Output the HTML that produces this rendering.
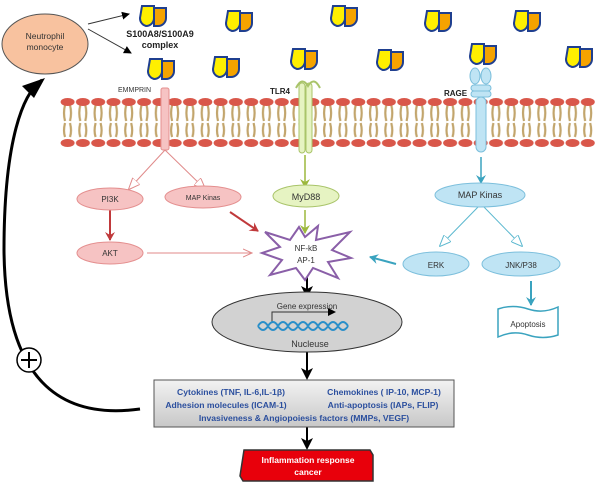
<!DOCTYPE html>
<html><head><meta charset="utf-8"><style>
html,body{margin:0;padding:0;background:#fff;width:600px;height:485px;overflow:hidden}
svg{display:block;font-family:"Liberation Sans",sans-serif}
</style></head><body>
<svg width="600" height="485" viewBox="0 0 600 485" xmlns="http://www.w3.org/2000/svg">
<defs>
<pattern id="lip" x="60" y="95" width="15.3" height="55" patternUnits="userSpaceOnUse">
<path d="M5 10 q-2 8 0 16 M10 10 q2 8 0 16 M5 28 q-2 8 0 14 M10 28 q2 8 0 14" stroke="#c2a56c" stroke-width="2.2" fill="none"/>
<ellipse cx="7.6" cy="7" rx="7" ry="4" fill="#d9574a"/>
<ellipse cx="7.6" cy="48" rx="7" ry="4" fill="#d9574a"/>
</pattern>
<g id="s1"><path d="M2 2 h12 v12 a8 8 0 0 1 -8 8 a8 8 0 0 1 -6 -8 z" fill="#ffef00" stroke="#1f3f8f" stroke-width="2"/><path d="M14 4 h12 v10 a8 8 0 0 1 -8 8 h-4 z" fill="#f5a300" stroke="#1f3f8f" stroke-width="2"/></g>
<marker id="ab" markerWidth="8" markerHeight="8" refX="7" refY="4" orient="auto"><path d="M0 0 L8 4 L0 8 z" fill="#000"/></marker>
<marker id="ao" markerWidth="12" markerHeight="10" refX="11" refY="5" orient="auto" markerUnits="userSpaceOnUse"><path d="M0 0 L12 5 L0 10 z" fill="#fff" stroke="#e08a8a"/></marker>
<marker id="ab2" markerWidth="12" markerHeight="10" refX="11" refY="5" orient="auto" markerUnits="userSpaceOnUse"><path d="M0 0 L12 5 L0 10 z" fill="#fff" stroke="#5bb8cf"/></marker>
<marker id="ar" markerWidth="10" markerHeight="10" refX="8" refY="5" orient="auto" markerUnits="userSpaceOnUse"><path d="M0 0 L9 5 L0 10 L3 5z" fill="#c0393b"/></marker>
<marker id="ac" markerWidth="10" markerHeight="10" refX="8" refY="5" orient="auto" markerUnits="userSpaceOnUse"><path d="M0 0 L9 5 L0 10 L3 5z" fill="#3aa3bf"/></marker>
<marker id="ag" markerWidth="10" markerHeight="10" refX="8" refY="5" orient="auto" markerUnits="userSpaceOnUse"><path d="M0 0 L9 5 L0 10 L3 5z" fill="#9cb83c"/></marker>
<marker id="ak" markerWidth="12" markerHeight="12" refX="10" refY="6" orient="auto" markerUnits="userSpaceOnUse"><path d="M0 0 L12 6 L0 12 L3 6z" fill="#000"/></marker>
<marker id="al" markerWidth="10" markerHeight="10" refX="9" refY="5" orient="auto" markerUnits="userSpaceOnUse"><path d="M0 1 L9 5 L0 9" fill="none" stroke="#e08a8a"/></marker>
<linearGradient id="gb" x1="0" y1="0" x2="0" y2="1"><stop offset="0" stop-color="#f2f2f2"/><stop offset="1" stop-color="#c8c8c8"/></linearGradient>
</defs>
<rect x="60" y="95" width="535" height="55" fill="url(#lip)"/>
<use href="#s1" x="140" y="4"/><use href="#s1" x="226" y="9"/><use href="#s1" x="148" y="57"/><use href="#s1" x="213" y="55"/>
<use href="#s1" x="291" y="47"/><use href="#s1" x="331" y="4"/><use href="#s1" x="377" y="48"/><use href="#s1" x="425" y="9"/>
<use href="#s1" x="470" y="42"/><use href="#s1" x="514" y="9"/><use href="#s1" x="566" y="45"/>
<text x="160" y="37" font-size="9" text-anchor="middle" font-weight="bold" fill="#222">S100A8/S100A9</text>
<text x="160" y="48" font-size="9" text-anchor="middle" font-weight="bold" fill="#222">complex</text>
<ellipse cx="45" cy="44" rx="43" ry="30" fill="#f8c29f" stroke="#555"/>
<text x="45" y="39" font-size="8.5" text-anchor="middle" fill="#333">Neutrophil</text>
<text x="45" y="50" font-size="8.5" text-anchor="middle" fill="#333">monocyte</text>
<line x1="88" y1="24" x2="129" y2="14" stroke="#333" marker-end="url(#ab)"/>
<line x1="88" y1="29" x2="131" y2="53" stroke="#333" marker-end="url(#ab)"/>
<text x="118" y="92" font-size="7" fill="#333">EMMPRIN</text>
<rect x="161" y="88" width="8" height="62" rx="2" fill="#f6c3c3" stroke="#e48f8f"/>
<text x="270" y="94" font-size="8" font-weight="bold" fill="#222">TLR4</text>
<rect x="299" y="83" width="6" height="70" rx="3" fill="#e6f3c2" stroke="#a9c46a"/>
<rect x="306" y="83" width="6" height="70" rx="3" fill="#e6f3c2" stroke="#a9c46a"/>
<path d="M296 88 q6 -12 12 -2 q6 -10 12 2" fill="none" stroke="#a9c46a" stroke-width="2"/>
<text x="444" y="96" font-size="8" font-weight="bold" fill="#222">RAGE</text>
<ellipse cx="475" cy="76" rx="5" ry="8" fill="#bfe4f4" stroke="#7cbfdc"/><ellipse cx="486" cy="76" rx="5" ry="8" fill="#bfe4f4" stroke="#7cbfdc"/>
<rect x="471" y="85" width="20" height="6" rx="3" fill="#bfe4f4" stroke="#7cbfdc"/>
<rect x="471" y="91" width="20" height="6" rx="3" fill="#bfe4f4" stroke="#7cbfdc"/>
<rect x="476" y="97" width="10" height="55" rx="5" fill="#bfe4f4" stroke="#7cbfdc"/>
<line x1="165" y1="150" x2="129" y2="189" stroke="#e08a8a" marker-end="url(#ao)"/>
<line x1="165" y1="150" x2="205" y2="189" stroke="#e08a8a" marker-end="url(#ao)"/>
<line x1="110" y1="210" x2="110" y2="240" stroke="#c0393b" stroke-width="2" marker-end="url(#ar)"/>
<line x1="230" y1="212" x2="258" y2="231" stroke="#c0393b" stroke-width="2" marker-end="url(#ar)"/>
<line x1="147" y1="253" x2="252" y2="253" stroke="#e08a8a" marker-end="url(#al)"/>
<line x1="305" y1="155" x2="305" y2="187" stroke="#9cb83c" stroke-width="1.5" marker-end="url(#ag)"/>
<line x1="305" y1="210" x2="305" y2="233" stroke="#9cb83c" stroke-width="1.5" marker-end="url(#ag)"/>
<line x1="481" y1="157" x2="481" y2="183" stroke="#3aa3bf" stroke-width="1.5" marker-end="url(#ac)"/>
<line x1="479" y1="206" x2="440" y2="246" stroke="#5bb8cf" marker-end="url(#ab2)"/>
<line x1="483" y1="206" x2="522" y2="246" stroke="#5bb8cf" marker-end="url(#ab2)"/>
<line x1="396" y1="264" x2="370" y2="257" stroke="#3aa3bf" stroke-width="2" marker-end="url(#ac)"/>
<line x1="531" y1="281" x2="531" y2="305" stroke="#3aa3bf" stroke-width="2" marker-end="url(#ac)"/>
<line x1="307" y1="277" x2="307" y2="296" stroke="#000" stroke-width="2" marker-end="url(#ak)"/>
<line x1="307" y1="350" x2="307" y2="378" stroke="#000" stroke-width="2" marker-end="url(#ak)"/>
<line x1="307" y1="427" x2="307" y2="448" stroke="#000" stroke-width="2" marker-end="url(#ak)"/>
<g font-size="8" text-anchor="middle" fill="#333">
<ellipse cx="110" cy="199" rx="33" ry="11" fill="#f6c3c3" stroke="#e48f8f"/><text x="110" y="202">PI3K</text>
<ellipse cx="203" cy="197" rx="38" ry="11" fill="#f6c3c3" stroke="#e48f8f"/><text x="203" y="200" font-size="7">MAP Kinas</text>
<ellipse cx="110" cy="253" rx="33" ry="11" fill="#f6c3c3" stroke="#e48f8f"/><text x="110" y="256">AKT</text>
<ellipse cx="306" cy="196" rx="33" ry="11" fill="#e6f3c2" stroke="#a9c46a"/><text x="306" y="200" font-size="9">MyD88</text>
<ellipse cx="480" cy="195" rx="45" ry="12" fill="#bfe4f4" stroke="#7cbfdc"/><text x="480" y="198" font-size="9">MAP Kinas</text>
<ellipse cx="436" cy="264" rx="33" ry="12" fill="#bfe4f4" stroke="#7cbfdc"/><text x="436" y="268">ERK</text>
<ellipse cx="521" cy="264" rx="39" ry="12" fill="#bfe4f4" stroke="#7cbfdc"/><text x="521" y="268">JNK/P38</text>
<path d="M498 309 q15 -5 30 0 q15 5 30 -2 v28 q-15 5 -30 0 q-15 -5 -30 2 z" fill="#fff" stroke="#3aa3bf" stroke-width="1.5"/>
<text x="528" y="327">Apoptosis</text>
<polygon points="265,232 290,240 299,227 305,237 318,226 316,240 350,232 332,250 351,258 328,262 338,278 313,268 305,280 296,268 270,275 282,260 262,253 280,247" fill="#fff" stroke="#8a5fa8" stroke-width="2"/>
<text x="306" y="251">NF-kB</text><text x="306" y="263">AP-1</text>
<ellipse cx="307" cy="322" rx="95" ry="30" fill="#d2d2d2" stroke="#333"/>
<text x="307" y="309">Gene expression</text>
<path d="M272 322 v-10 h63" fill="none" stroke="#333" marker-end="url(#ab)"/>
<path d="M258 326 q5 -8 10 0 q5 8 10 0 q5 -8 10 0 q5 8 10 0 q5 -8 10 0 q5 8 10 0 q5 -8 10 0 q5 8 10 0 q5 -8 10 0 M258 326 q5 8 10 0 q5 -8 10 0 q5 8 10 0 q5 -8 10 0 q5 8 10 0 q5 -8 10 0 q5 8 10 0 q5 -8 10 0 q5 8 10 0" fill="none" stroke="#2a8fc9" stroke-width="2"/>
<text x="310" y="347" font-size="9">Nucleuse</text>
</g>
<rect x="154" y="380" width="300" height="47" fill="url(#gb)" stroke="#555"/>
<g font-size="8.6" font-weight="bold" fill="#2b4f9e" text-anchor="middle">
<text x="231" y="395">Cytokines (TNF, IL-6,IL-1β)</text>
<text x="384" y="395">Chemokines ( IP-10, MCP-1)</text>
<text x="226" y="408">Adhesion molecules (ICAM-1)</text>
<text x="383" y="408">Anti-apoptosis (IAPs, FLIP)</text>
<text x="304" y="421">Invasiveness  &amp; Angiopoiesis factors (MMPs, VEGF)</text>
</g>
<path d="M244 450 h126 l3 5 v26 h-130 l-3 -5 z" fill="#e8000b" stroke="#333" stroke-width="1.5"/>
<text x="308" y="463" font-size="8.5" font-weight="bold" fill="#fff" text-anchor="middle">Inflammation response</text>
<text x="308" y="475" font-size="8.5" font-weight="bold" fill="#fff" text-anchor="middle">cancer</text>
<path d="M140 409 C60 420 5 380 4 250 C4 150 20 95 42 80" fill="none" stroke="#000" stroke-width="3"/>
<path d="M45 78 L22 86 L34 98 z" fill="#000"/>
<circle cx="29" cy="360" r="12" fill="#fff" stroke="#000" stroke-width="1.5"/>
<path d="M21 360 h16 M29 352 v16" stroke="#000" stroke-width="2"/>
</svg>
</body></html>
